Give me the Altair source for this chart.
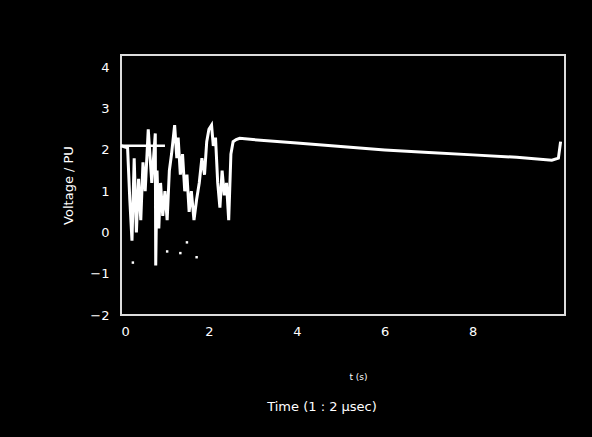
import altair as alt
import pandas as pd

# main voltage trace (time in units, voltage in PU)
sig_t = [0.0, 0.15, 0.2, 0.25, 0.3, 0.35, 0.4, 0.45, 0.5, 0.55, 0.62, 0.7, 0.78, 0.79, 0.82,
         0.86, 0.9, 0.95, 1.0, 1.05, 1.1, 1.15, 1.22, 1.27, 1.3, 1.35, 1.4, 1.45, 1.5, 1.55,
         1.6, 1.66, 1.72, 1.78, 1.84, 1.9, 1.95, 2.0, 2.06, 2.1, 2.15, 2.2, 2.25, 2.3, 2.35,
         2.4, 2.45, 2.5, 2.55, 2.62, 2.7, 3.0, 4.0, 5.0, 6.0, 7.0, 8.0, 9.0, 9.8, 9.95, 10.0]
sig_v = [2.1, 2.05, 0.8, -0.2, 1.8, 0.0, 1.3, 0.3, 1.7, 1.0, 2.5, 1.2, 2.4, -0.8, 1.5,
         0.1, 1.2, 0.4, 1.0, 0.3, 1.5, 1.9, 2.6, 1.8, 2.3, 1.4, 1.9, 1.0, 1.4, 0.5,
         1.0, 0.3, 0.8, 1.2, 1.8, 1.4, 2.2, 2.5, 2.6, 2.1, 2.3, 1.2, 0.6, 1.5, 0.9,
         1.2, 0.3, 1.9, 2.2, 2.25, 2.28, 2.25, 2.17, 2.08, 2.0, 1.94, 1.88, 1.82, 1.75, 1.8, 2.2]

# flat reference segment
ref_t = [0.0, 1.0]
ref_v = [2.1, 2.1]

# scattered noise points
dot_t = [0.27, 1.05, 1.35, 1.5, 1.72]
dot_v = [-0.73, -0.46, -0.5, -0.24, -0.6]

x_ticks = [0, 2, 4, 6, 8]
y_ticks = [-2, -1, 0, 1, 2, 3, 4]

sig = pd.DataFrame({"t": sig_t, "v": sig_v, "i": range(len(sig_t))})
ref = pd.DataFrame({"t": ref_t, "v": ref_v})
dots = pd.DataFrame({"t": dot_t, "v": dot_v})

xs = alt.Scale(domain=[0, 10.1], nice=False, zero=False)
ys = alt.Scale(domain=[-2, 4.3], nice=False, zero=False)

xax = alt.Axis(values=x_ticks, title="t (s)", titleFontSize=9, titlePadding=34,
               labelFontSize=13, labelPadding=10, ticks=False, domain=False, grid=False,
               titleFontWeight="normal", titleX=237)
yax = alt.Axis(values=y_ticks, title="Voltage / PU", titleFontSize=13, titlePadding=14,
               labelFontSize=13, labelPadding=12, ticks=False, domain=False, grid=False,
               titleFontWeight="normal")

line = alt.Chart(sig).mark_line(color="white", strokeWidth=3, interpolate="linear").encode(
    x=alt.X("t:Q", scale=xs, axis=xax),
    y=alt.Y("v:Q", scale=ys, axis=yax),
    order="i:Q",
)
refl = alt.Chart(ref).mark_line(color="white", strokeWidth=2.5).encode(
    x=alt.X("t:Q", scale=xs), y=alt.Y("v:Q", scale=ys)
)
pts = alt.Chart(dots).mark_square(color="white", size=6, opacity=1).encode(
    x=alt.X("t:Q", scale=xs), y=alt.Y("v:Q", scale=ys)
)
label2 = alt.Chart(pd.DataFrame({"s": ["Time (1 : 2 μsec)"]})).mark_text(
    color="white", fontSize=13, font="DejaVu Sans", align="center", baseline="middle"
).encode(x=alt.value(201), y=alt.value(352), text="s:N")

chart = alt.layer(line, refl, pts, label2).properties(
    width=444, height=260,
    background="black",
    padding={"left": 121, "top": 55, "right": 27, "bottom": 122},
    autosize=alt.AutoSizeParams(type="none"),
).configure_view(
    stroke="#dddddd", strokeWidth=2
).configure_axis(
    labelColor="white", titleColor="white", labelFont="DejaVu Sans", titleFont="DejaVu Sans"
)

chart.save("out.html", embed_options={"renderer": "svg", "actions": False})
